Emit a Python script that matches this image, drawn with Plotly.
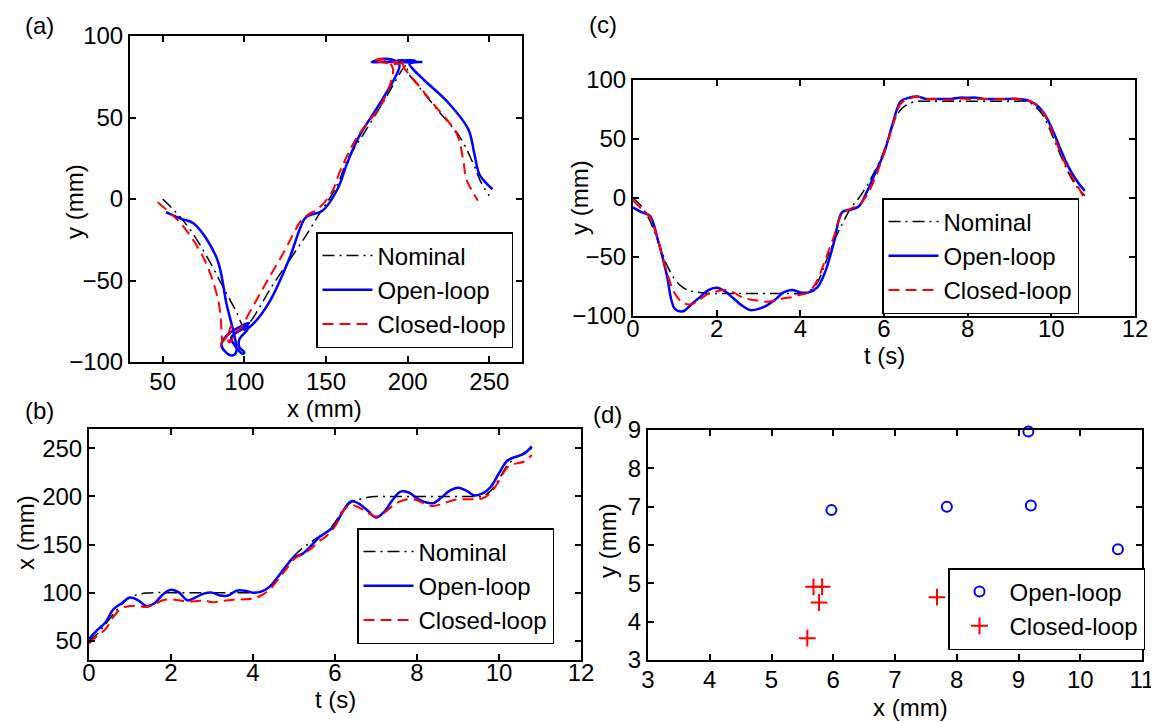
import plotly.graph_objects as go

# ---------------- data ----------------
t_s = [0.0, 0.2, 0.4, 0.6, 0.8, 1.0, 1.2, 1.4, 1.6, 1.8, 2.0, 2.2, 2.4, 2.6, 2.8,
       3.0, 3.2, 3.4, 3.6, 3.8, 4.0, 4.2, 4.4, 4.6, 4.8, 5.0, 5.2, 5.4, 5.6, 5.8,
       6.0, 6.2, 6.4, 6.6, 6.8, 7.0, 7.2, 7.4, 7.6, 7.8, 8.0, 8.2, 8.4, 8.6, 8.8,
       9.0, 9.2, 9.4, 9.6, 9.8, 10.0, 10.2, 10.4, 10.6, 10.8]

nominal_x = [50, 57, 67, 78, 88, 95, 98, 99.5, 100, 100, 100, 100, 100, 100, 100,
             100, 100, 100, 100, 100, 100, 101, 106, 116, 128, 138, 146, 152, 158, 163,
             173, 186, 194, 197, 199, 200, 200, 200, 200, 200, 200, 200, 200, 200, 200,
             200, 200, 200, 200, 206, 218, 232, 240, 245, 250]
open_x = [52, 61, 69, 83, 89, 95, 92, 86, 89, 98, 103, 100, 92, 95, 99,
          100, 97, 97, 102, 102, 100, 101, 106, 116, 127, 137, 140, 148, 157, 163,
          170, 185, 195, 192, 185, 178, 184, 196, 205, 204, 198, 194, 193, 199, 206,
          209, 206, 201, 203, 210, 224, 237, 241, 244, 252]
closed_x = [47, 55, 62, 75, 84, 86, 86, 85, 88, 92, 93, 92, 91, 91, 92,
            90, 91, 92, 93, 93, 94, 97, 103, 113, 124, 135, 140, 145, 153, 159,
            169, 185, 191, 188, 183, 179, 183, 190, 195, 197, 196, 192, 190, 192, 195,
            197, 197, 197, 198, 204, 216, 230, 234, 236, 243]

nominal_y = [0, -7, -19, -37, -56, -69, -76, -79, -80, -81, -81, -81, -81, -81, -81,
             -81, -81, -81, -81, -81, -81, -79, -72, -55, -37, -22, -9, 0, 11, 24,
             40, 61, 75, 80, 82, 82, 82, 82, 82, 82, 82, 82, 82, 82, 82,
             82, 82, 82, 78, 70, 55, 38, 22, 10, 2]
open_y = [-8, -12, -15, -36, -64, -94, -96, -90, -84, -78, -76, -79, -85, -91, -95,
          -94, -91, -86, -80, -78, -80, -80, -76, -62, -38, -12, -10, -7, 6, 22,
          38, 62, 82, 85, 86, 84, 84, 84, 84, 85, 85, 85, 84, 84, 84,
          84, 84, 83, 80, 73, 60, 43, 27, 15, 6]
closed_y = [-2, -9, -16, -36, -62, -81, -89, -90, -86, -81, -79, -78, -80, -84, -86,
            -87, -88, -87, -85, -84, -82, -80, -70, -52, -33, -13, -9, -6, 3, 18,
            38, 60, 80, 84, 86, 84, 84, 83, 83, 84, 84, 84, 84, 84, 84,
            84, 84, 83, 80, 73, 58, 40, 24, 12, -1]

err_open_x = [5.97, 7.84, 9.20, 9.16, 10.61]
err_open_y = [6.91, 7.00, 7.03, 8.96, 5.89]
err_closed_x = [5.68, 5.82, 5.77, 5.58, 7.68]
err_closed_y = [4.91, 4.91, 4.50, 3.57, 4.64]

series_names = ["Nominal", "Open-loop", "Closed-loop"]

# ---------------- styling ----------------
FONT = "Liberation Sans, Arial, Helvetica, sans-serif"
FS = 24
PAGE_W, PAGE_H = 1159, 722
OFF = 8                      # default body margin of the html page
W, H = PAGE_W - OFF, PAGE_H - OFF

styles = [
    dict(color="black", width=1.5, dash="12px,5px,2px,5px"),
    dict(color="#0000ff", width=2.5, dash="solid"),
    dict(color="#ff0000", width=2, dash="11px,6px"),
]

fig = go.Figure()

xs_series = [nominal_x, open_x, closed_x]
ys_series = [nominal_y, open_y, closed_y]

# (a) y vs x
for name, xs, ys, st in zip(series_names, xs_series, ys_series, styles):
    fig.add_trace(go.Scatter(x=xs, y=ys, mode="lines", name=name, line=st,
                             line_shape="spline", xaxis="x", yaxis="y",
                             legend="legend"))
# (c) y vs t
for name, ys, st in zip(series_names, ys_series, styles):
    fig.add_trace(go.Scatter(x=t_s, y=ys, mode="lines", name=name, line=st,
                             line_shape="spline", xaxis="x2", yaxis="y2",
                             legend="legend2"))
# (b) x vs t
for name, xs, st in zip(series_names, xs_series, styles):
    fig.add_trace(go.Scatter(x=t_s, y=xs, mode="lines", name=name, line=st,
                             line_shape="spline", xaxis="x3", yaxis="y3",
                             legend="legend3"))
# (d) errors
fig.add_trace(go.Scatter(x=err_open_x, y=err_open_y, mode="markers", name="Open-loop",
                         marker=dict(symbol="circle-open", size=10, color="#0000ff",
                                     line=dict(width=2, color="#0000ff")),
                         cliponaxis=False,
                         xaxis="x4", yaxis="y4", legend="legend4"))
fig.add_trace(go.Scatter(x=err_closed_x, y=err_closed_y, mode="markers", name="Closed-loop",
                         marker=dict(symbol="cross-thin", size=12, color="#ff0000",
                                     line=dict(width=2, color="#ff0000")),
                         cliponaxis=False,
                         xaxis="x4", yaxis="y4", legend="legend4"))


def px_x(a, b):
    return [(a - OFF) / W, (b - OFF) / W]


def px_y(top, bottom):
    return [1 - (bottom - OFF) / H, 1 - (top - OFF) / H]


def ax(domain, rng, dtick, tick0, anchor, standoff=0):
    return dict(domain=domain, range=rng, dtick=dtick, tick0=tick0,
                anchor=anchor, showline=True, linecolor="black", linewidth=2,
                mirror="allticks", ticks="inside", ticklen=6, tickwidth=1.5,
                tickcolor="black", showgrid=False, zeroline=False,
                ticklabelstandoff=standoff,
                tickfont=dict(family=FONT, size=FS, color="black"),
                automargin=False)


layout_axes = dict(
    xaxis=ax(px_x(130, 522), [30, 270], 50, 0, "y", -3),
    yaxis=ax(px_y(36, 362), [-100, 100], 50, 0, "x"),
    xaxis2=ax(px_x(633, 1135), [0, 12], 2, 0, "y2", -10),
    yaxis2=ax(px_y(80, 316), [-100, 100], 50, 0, "x2"),
    xaxis3=ax(px_x(89, 581), [0, 12], 2, 0, "y3", -10),
    yaxis3=ax(px_y(429, 660), [30, 270], 50, 0, "x3"),
    xaxis4=ax(px_x(648, 1142), [3, 11], 1, 3, "y4", -3),
    yaxis4=ax(px_y(430, 660), [3, 9], 1, 3, "x4"),
)


def leg(x, y):
    return dict(x=(x - OFF) / W, y=1 - (y - OFF) / H, xanchor="left", yanchor="top",
                bgcolor="white", bordercolor="black", borderwidth=1.5,
                font=dict(family=FONT, size=FS, color="black"), itemwidth=50,
                tracegroupgap=0)


def note(txt, x, y, rot=0):
    return dict(text=txt, x=(x - OFF) / W, y=1 - (y - OFF) / H, xref="paper", yref="paper",
                showarrow=False, xanchor="center", yanchor="middle", textangle=rot,
                font=dict(family=FONT, size=FS, color="black"))


annotations = [
    note("(a)", 40, 25), note("(b)", 40, 410), note("(c)", 603, 24), note("(d)", 607, 414),
    note("x (mm)", 324, 408), note("y (mm)", 75, 202, -90),
    note("t (s)", 335, 699), note("x (mm)", 25, 533, -90),
    note("t (s)", 884, 355), note("y (mm)", 580, 198, -90),
    note("x (mm)", 910, 707), note("y (mm)", 607, 541, -90),
]

fig.update_layout(
    width=W, height=H,
    margin=dict(l=0, r=0, t=0, b=0),
    paper_bgcolor="white", plot_bgcolor="white",
    font=dict(family=FONT, size=FS, color="black"),
    showlegend=True,
    legend=leg(316, 232),
    legend2=leg(882, 198),
    legend3=leg(357, 528),
    legend4=leg(948, 568),
    annotations=annotations,
    **layout_axes,
)

fig.write_html("out.html")
